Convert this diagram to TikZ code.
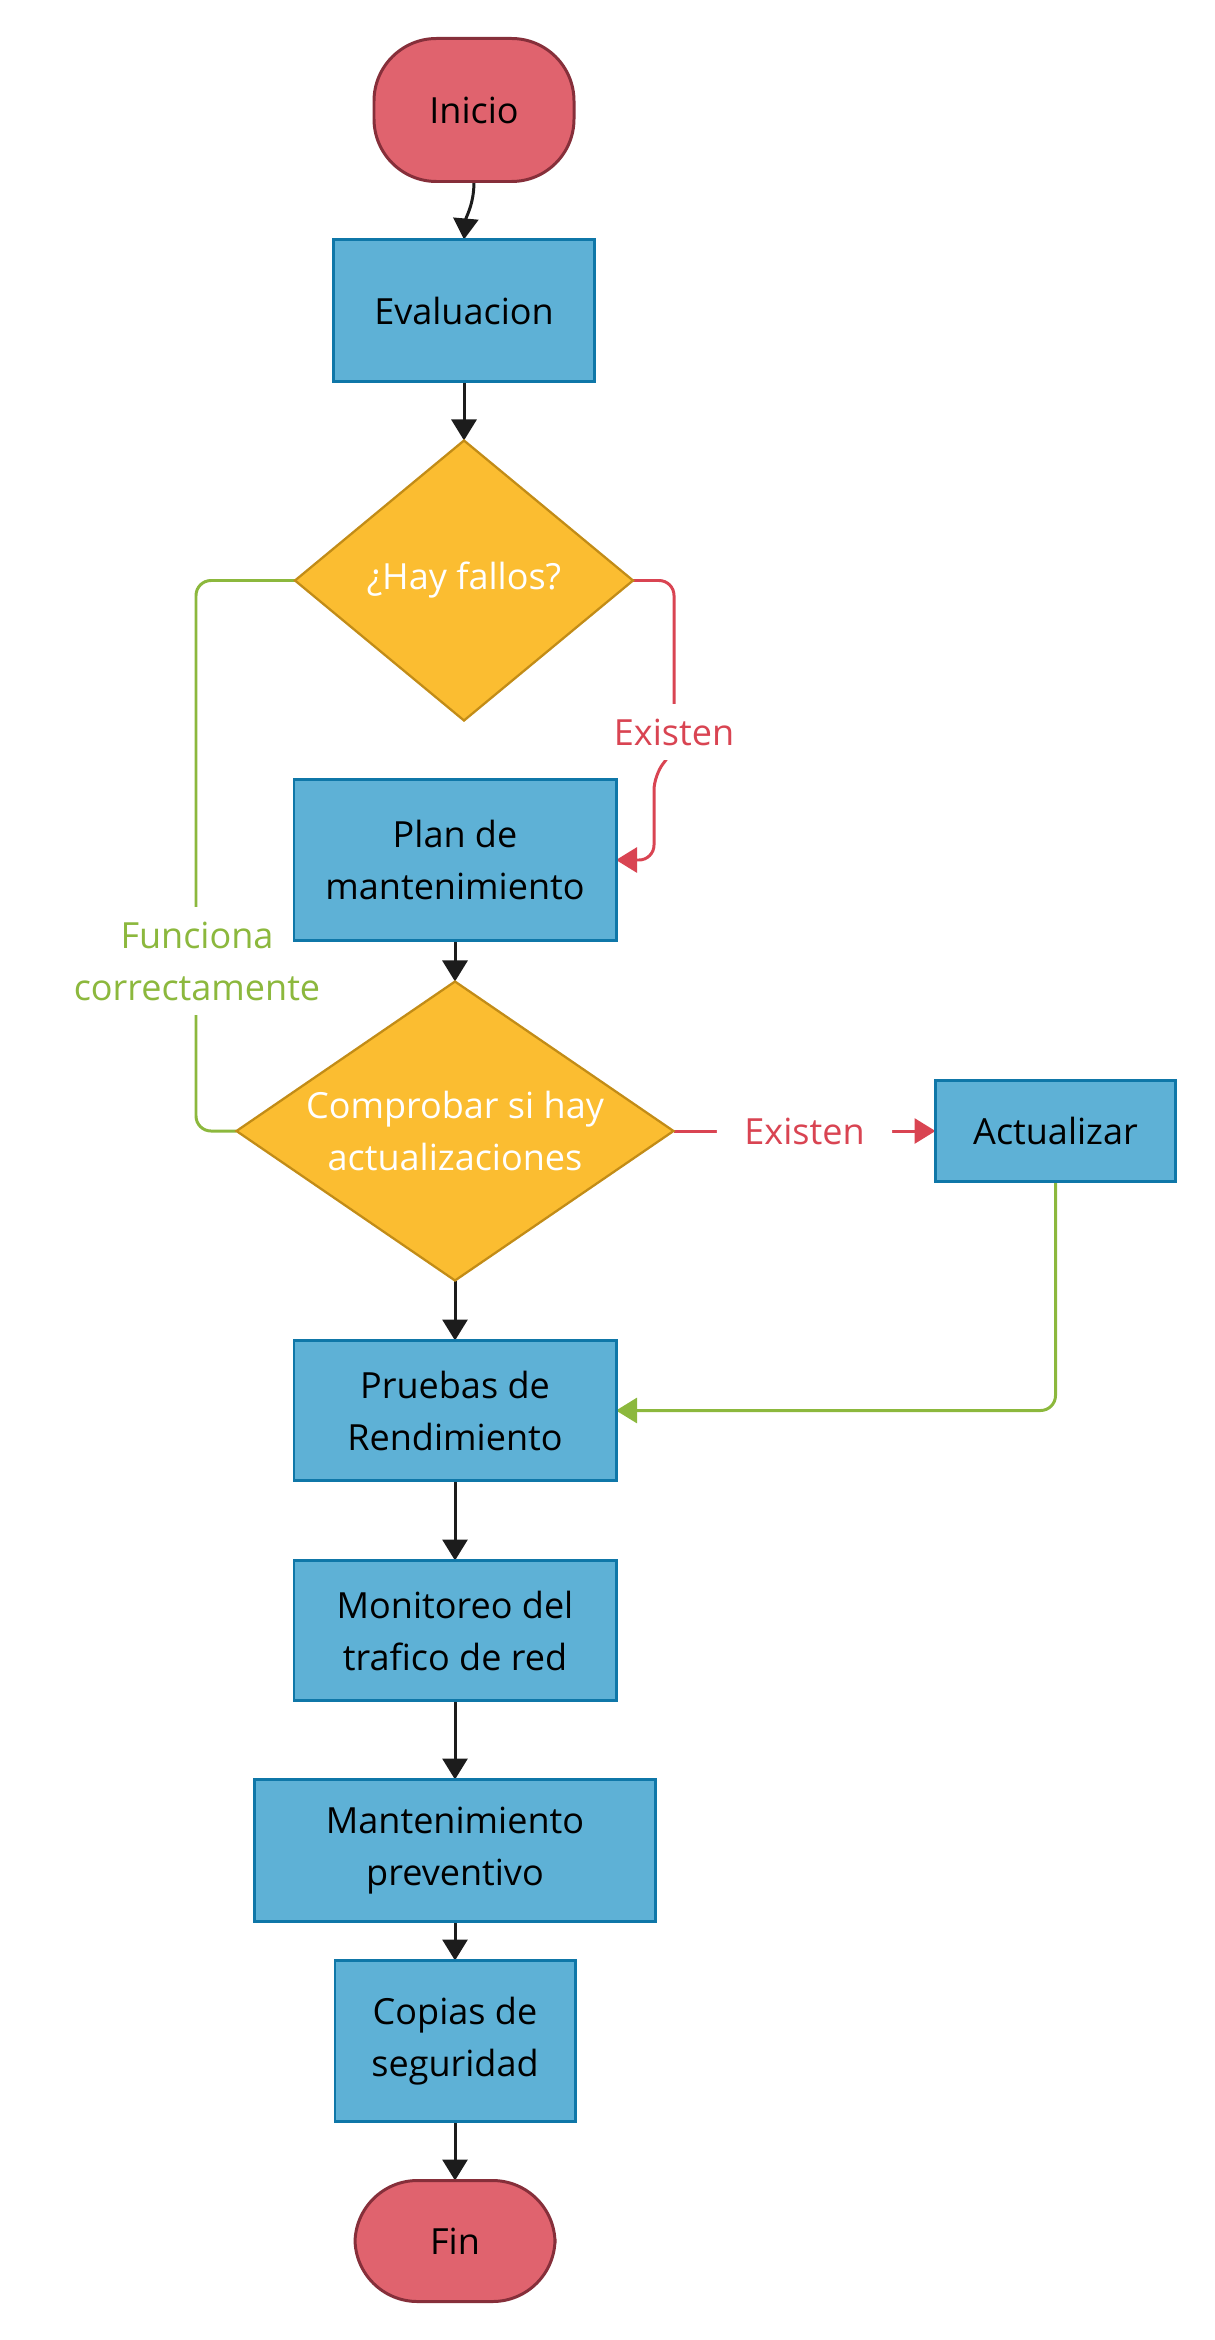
\documentclass[tikz,border=0pt]{standalone}
\usepackage{fontspec}
\setmainfont{Open Sans}
\usepackage{xcolor}
\usepackage{tikz}
\usetikzlibrary{shapes.geometric, arrows.meta, positioning, backgrounds}

\definecolor{termfill}{HTML}{E0636E}
\definecolor{termdraw}{HTML}{862F3A}
\definecolor{procfill}{HTML}{5EB1D6}
\definecolor{procdraw}{HTML}{0F77A8}
\definecolor{decfill}{HTML}{FBBD31}
\definecolor{decdraw}{HTML}{C28C17}
\definecolor{yesred}{HTML}{D94452}
\definecolor{okgreen}{HTML}{8CB83D}
\definecolor{linegray}{HTML}{1C1C1C}

\begin{document}
\begin{tikzpicture}[
    font=\fontsize{20.5}{29.6}\selectfont,
    terminal/.style={rectangle, rounded corners=1.25cm, draw=termdraw, fill=termfill, line width=1.7pt, outer sep=0pt, minimum width=4cm, text=black},
    process/.style={rectangle, draw=procdraw, fill=procfill, line width=1.7pt, outer sep=0pt, align=center, text=black},
    decision/.style={diamond, draw=decdraw, fill=decfill, line width=1.3pt, outer sep=0pt, align=center, text=white, inner sep=-6pt},
    tipped/.style={-{Triangle[width=0.5cm, length=0.42cm]}},
    arrow/.style={tipped, line width=1.7pt, draw=linegray},
    redline/.style={line width=1.7pt, draw=yesred, rounded corners=0.3cm},
    greenline/.style={line width=1.7pt, draw=okgreen, rounded corners=0.3cm},
    tag/.style={fill=white, inner xsep=0.1cm, inner ysep=0.3cm, align=center}
]

\useasboundingbox (0,0) rectangle (24.28,-46.8);

\node[terminal, minimum height=2.86cm] (inicio) at (9.48,-2.2) {Inicio};
\node[process, minimum width=5.22cm, minimum height=2.84cm, below=1.16cm of inicio, xshift=-0.2cm] (evaluacion) {Evaluacion};
\node[decision, shape aspect=1.21, minimum width=6.76cm, minimum height=5.6cm, below=1.18cm of evaluacion] (fallos) {¿Hay fallos?};
\node[process, minimum width=6.44cm, minimum height=3.22cm, below=1.18cm of fallos, xshift=-0.18cm] (plan) {Plan de\\mantenimiento};
\node[decision, shape aspect=1.46, minimum width=8.74cm, minimum height=5.98cm, below=0.82cm of plan] (comprobar) {Comprobar si hay\\actualizaciones};
\node[process, minimum width=4.8cm, minimum height=2.02cm, right=5.24cm of comprobar] (actualizar) {Actualizar};
\node[process, minimum width=6.44cm, minimum height=2.8cm, below=1.2cm of comprobar] (pruebas) {Pruebas de\\Rendimiento};
\node[process, minimum width=6.44cm, minimum height=2.8cm, below=1.6cm of pruebas] (monitoreo) {Monitoreo del\\trafico de red};
\node[process, minimum width=8.02cm, minimum height=2.84cm, below=1.58cm of monitoreo] (preventivo) {Mantenimiento\\preventivo};
\node[process, minimum width=4.8cm, minimum height=3.22cm, below=0.78cm of preventivo] (copias) {Copias de\\seguridad};
\node[terminal, minimum height=2.42cm, below=1.18cm of copias] (fin) {Fin};

\begin{scope}[on background layer]
\draw[arrow] (inicio.south) to[out=-90, in=85] (evaluacion.north);
\draw[arrow] (evaluacion) -- (fallos);
\draw[arrow] (plan) -- (comprobar);
\draw[arrow] (comprobar) -- (pruebas);
\draw[arrow] (pruebas) -- (monitoreo);
\draw[arrow] (monitoreo) -- (preventivo);
\draw[arrow] (preventivo) -- (copias);
\draw[arrow] (copias) -- (fin);

% ramas de las decisiones
\draw[redline, tipped] (fallos.east) -| (13.48,-15.0) -- (13.08,-15.5) |- (plan.east);
\node[tag, text=yesred] (existen1) at (13.48,-14.64) {Existen};
\draw[greenline] (fallos.west) -| (3.92,-20) |- (comprobar.west);
\node[tag, text=okgreen] (funciona) at (3.94,-19.22) {Funciona\\correctamente};
\draw[redline, tipped] (comprobar.east) -- node[tag, text=yesred, inner xsep=0.55cm] (existen2) {Existen} (actualizar.west);
\draw[greenline, tipped] (actualizar.south) |- (pruebas.east);
\end{scope}

\end{tikzpicture}
\end{document}
